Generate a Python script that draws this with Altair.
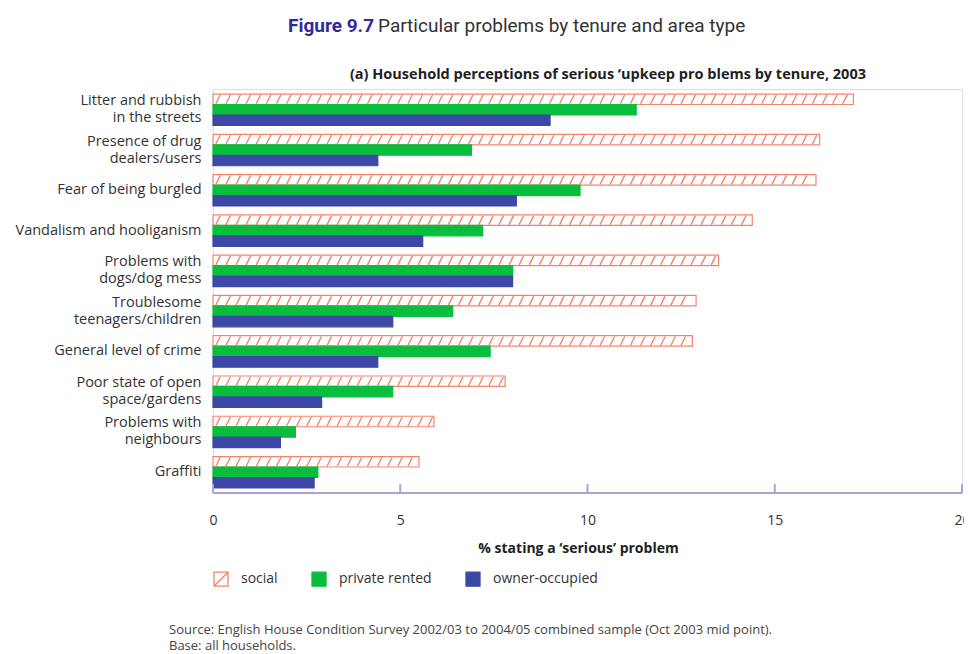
import altair as alt
import pandas as pd

categories = [
    "Litter and rubbish\nin the streets",
    "Presence of drug\ndealers/users",
    "Fear of being burgled",
    "Vandalism and hooliganism",
    "Problems with\ndogs/dog mess",
    "Troublesome\nteenagers/children",
    "General level of crime",
    "Poor state of open\nspace/gardens",
    "Problems with\nneighbours",
    "Graffiti",
]
social = [17.1, 16.2, 16.1, 14.4, 13.5, 12.9, 12.8, 7.8, 5.9, 5.5]
private_rented = [11.3, 6.9, 9.8, 7.2, 8.0, 6.4, 7.4, 4.8, 2.2, 2.8]
owner_occupied = [9.0, 4.4, 8.1, 5.6, 8.0, 4.8, 4.4, 2.9, 1.8, 2.7]
series = ["social", "private rented", "owner-occupied"]
x_ticks = [0, 5, 10, 15, 20]

fill_colors = ["#ffffff", "#08be3c", "#3c47a6"]
stroke_colors = ["#f5836b", "#08be3c", "#3c47a6"]
hatch_color = "#f5836b"
axis_color = "#a9a3d6"

W, H = 749, 404
FONT = "Open Sans"
TFONT = "Roboto"

rows = []
for c, s, p, o in zip(categories, social, private_rented, owner_occupied):
    rows.append({"cat": c, "series": "social", "value": s})
    rows.append({"cat": c, "series": "private rented", "value": p})
    rows.append({"cat": c, "series": "owner-occupied", "value": o})
df = pd.DataFrame(rows)

# hatch strokes inside the social bars (texture)
step = 0.27
hatch = []
for c, s in zip(categories, social):
    k = 0
    while step * (k + 0.5) < s - 0.08:
        hatch.append({"cat": c, "series": "social", "x": step * (k + 0.5)})
        k += 1
hatch_df = pd.DataFrame(hatch)

ticks_df = pd.DataFrame({"t": x_ticks})

y_enc = alt.Y(
    "cat:N",
    sort=categories,
    scale=alt.Scale(paddingInner=0.22, paddingOuter=0.125),
    axis=alt.Axis(
        title=None, domain=False, ticks=False, labelPadding=12,
        labelFont=FONT, labelFontSize=14.5, labelColor="#333333",
        labelLimit=300, labelExpr="split(datum.value, '\\n')",
        labelLineHeight=17,
        labelOffset={"condition": {"test": "indexof(datum.value, '\\n') >= 0", "value": -8.5}, "value": 0},
    ),
)
yoff = alt.YOffset("series:N", scale=alt.Scale(domain=series, paddingInner=0, paddingOuter=0))
x_scale = alt.Scale(domain=[0, 20], nice=False)

legend = alt.Legend(
    title=None, orient="none", direction="horizontal",
    legendX=0, legendY=H + 78,
    symbolType="M-1,-1H1V1H-1Z M-1,1L1,-1", symbolSize=196,
    symbolStrokeWidth=1.3, labelFont=FONT, labelFontSize=14,
    labelColor="#333333", labelOffset=12, columnPadding=31,
)

bars = alt.Chart(df).mark_bar(strokeWidth=1.2).encode(
    x=alt.X(
        "value:Q", scale=x_scale,
        axis=alt.Axis(
            values=x_ticks, grid=False, domain=False, ticks=False, labelFlush=False,
            labelPadding=20, labelFont=FONT, labelFontSize=14, labelColor="#333333",
            title="% stating a \u2018serious\u2019 problem", titleFont=FONT,
            titleFontSize=14, titleFontWeight="bold", titleColor="#222222",
            titlePadding=14, titleX=365,
        ),
    ),
    y=y_enc,
    yOffset=yoff,
    fill=alt.Fill("series:N", scale=alt.Scale(domain=series, range=fill_colors), legend=legend),
    stroke=alt.Stroke("series:N", scale=alt.Scale(domain=series, range=stroke_colors), legend=legend),
)

hatch_layer = alt.Chart(hatch_df).mark_point(
    shape="M-0.45,0.9L0.45,-0.9", size=100, filled=False,
    stroke=hatch_color, strokeWidth=1.4, opacity=1,
).encode(
    x=alt.X("x:Q", scale=x_scale),
    y=alt.Y("cat:N", sort=categories),
    yOffset=alt.YOffset("series:N"),
)

axis_line = alt.Chart(pd.DataFrame({"a": [x_ticks[0]], "b": [x_ticks[-1]]})).mark_rule(
    color=axis_color, strokeWidth=2
).encode(x=alt.X("a:Q", scale=x_scale), x2="b:Q", y=alt.value(H))

tick_rules = alt.Chart(ticks_df).mark_rule(color=axis_color, strokeWidth=2).encode(
    x=alt.X("t:Q", scale=x_scale), y=alt.value(H - 9), y2=alt.value(H)
)

one = pd.DataFrame({"k": [0]})
title_a = alt.Chart(one).mark_text(
    text="Figure 9.7", font=TFONT, fontSize=19, fontWeight="bold",
    color="#33289a", align="left", baseline="alphabetic",
).encode(x=alt.value(75), y=alt.value(-57))
title_b = alt.Chart(one).mark_text(
    text="Particular problems by tenure and area type", font=TFONT, fontSize=19,
    color="#333333", align="left", baseline="alphabetic",
).encode(x=alt.value(165), y=alt.value(-57))
subtitle = alt.Chart(one).mark_text(
    text="(a) Household perceptions of serious \u2018upkeep pro blems by tenure, 2003",
    font=FONT, fontSize=14.5, fontWeight="bold", color="#222222",
    align="right", baseline="alphabetic",
).encode(x=alt.value(653), y=alt.value(-10))
src1 = alt.Chart(one).mark_text(
    text="Source: English House Condition Survey 2002/03 to 2004/05 combined sample (Oct 2003 mid point).",
    font=FONT, fontSize=13, color="#444444", align="left", baseline="alphabetic",
).encode(x=alt.value(-44), y=alt.value(H + 141))
src2 = alt.Chart(one).mark_text(
    text="Base: all households.",
    font=FONT, fontSize=13, color="#444444", align="left", baseline="alphabetic",
).encode(x=alt.value(-44), y=alt.value(H + 157))

chart = alt.layer(
    bars, hatch_layer, axis_line, tick_rules, title_a, title_b, subtitle, src1, src2
).properties(
    width=W, height=H,
    autosize=alt.AutoSizeParams(type="none"),
    padding={"left": 205, "top": 81, "right": 2, "bottom": 160},
).configure_view(stroke=None).configure(background="white")

chart.save("out.html", embed_options={"renderer": "svg", "actions": False})
